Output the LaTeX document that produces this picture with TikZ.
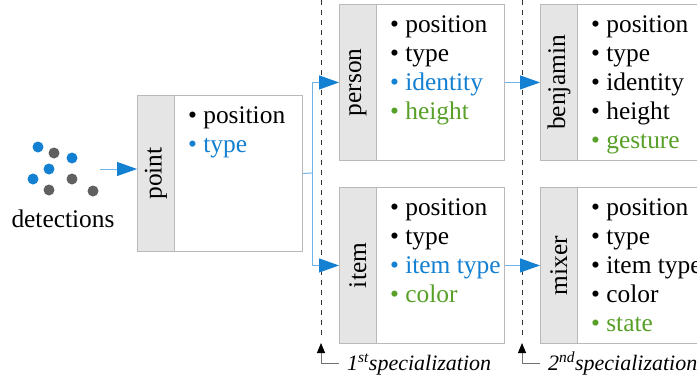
\documentclass[tikz,border=0pt]{standalone}
\usepackage{fontspec}
\setmainfont{Liberation Serif}
\usetikzlibrary{arrows.meta}
\definecolor{myblue}{RGB}{20,128,210}
\definecolor{linkblue}{RGB}{110,180,230}
\definecolor{mygreen}{RGB}{88,160,40}
\definecolor{dotgray}{RGB}{96,96,96}
\definecolor{headgray}{RGB}{229,229,229}
\definecolor{bordergray}{RGB}{185,185,185}
\newcommand\bl[2][black]{\textcolor{#1}{\textbullet\ #2}\\}
\tikzset{
  boxst/.style={draw=bordergray, fill=white, line width=0.9bp, minimum width=165bp, minimum height=156bp, anchor=north west, inner sep=0pt},
  headst/.style={draw=bordergray, fill=headgray, line width=0.9bp, minimum width=37bp, minimum height=156bp, anchor=north west, inner sep=0pt},
  headtxt/.style={rotate=90, inner sep=0pt, font=\fontsize{25.4bp}{29bp}\selectfont},
  listst/.style={anchor=base west, inner sep=0pt, font=\fontsize{25.4bp}{29bp}\selectfont},
  bigarrow/.style={-{Triangle[length=20bp,width=14bp,color=myblue]}},
  link/.style={draw=linkblue, line width=1bp},
  dot/.style={circle, inner sep=0pt, minimum size=11bp},
  specline/.style={dashed, dash pattern=on 5bp off 5bp, line width=0.7bp, black!80},
  speclab/.style={anchor=base west, inner sep=0pt, font=\fontsize{22bp}{26bp}\selectfont\itshape},
  upback/.style={draw=black!55, line width=0.9bp, -{Triangle[length=10bp,width=8bp,color=black]}}
}
\begin{document}
\begin{tikzpicture}[x=1bp,y=-1bp]
\useasboundingbox (0,0) rectangle (697,380);
\clip (0,0) rectangle (697,380);

% detections
\node[dot, fill=myblue] (b1) at (38,147) {};
\node[dot, fill=myblue] (b2) at (72,158) {};
\node[dot, fill=myblue] (b3) at (49,169) {};
\node[dot, fill=myblue] (b4) at (33,179) {};
\node[dot, fill=dotgray] (g1) at (54,153) {};
\node[dot, fill=dotgray] (g2) at (72,179) {};
\node[dot, fill=dotgray] (g3) at (49,190) {};
\node[dot, fill=dotgray] (g4) at (93,191) {};
\node[anchor=base, inner sep=0pt, font=\fontsize{25.4bp}{29bp}\selectfont] (det) at (63,227) {detections};
\coordinate (detout) at (100,169);

% point
\node[boxst] (point) at (137,95) {};
\node[headst] (pointh) at (point.north west) {};
\node[headtxt] (pointt) at (pointh.center) {point};
\node[listst] (pointl) at ([xshift=13bp,yshift=-28bp]pointh.north east)
  {\begin{tabular}[t]{@{}l@{}}\bl{position}\bl[myblue]{type}\end{tabular}};

% person
\node[boxst] (person) at (339,4) {};
\node[headst] (personh) at (person.north west) {};
\node[headtxt] (persont) at (personh.center) {person};
\node[listst] (personl) at ([xshift=13bp,yshift=-28bp]personh.north east)
  {\begin{tabular}[t]{@{}l@{}}\bl{position}\bl{type}\bl[myblue]{identity}\bl[mygreen]{height}\end{tabular}};

% item
\node[boxst] (item) at (339,187) {};
\node[headst] (itemh) at (item.north west) {};
\node[headtxt] (itemt) at (itemh.center) {item};
\node[listst] (iteml) at ([xshift=13bp,yshift=-28bp]itemh.north east)
  {\begin{tabular}[t]{@{}l@{}}\bl{position}\bl{type}\bl[myblue]{item type}\bl[mygreen]{color}\end{tabular}};

% benjamin
\node[boxst] (benj) at (540,4) {};
\node[headst] (benjh) at (benj.north west) {};
\node[headtxt] (benjt) at (benjh.center) {benjamin};
\node[listst] (benjl) at ([xshift=13bp,yshift=-28bp]benjh.north east)
  {\begin{tabular}[t]{@{}l@{}}\bl{position}\bl{type}\bl{identity}\bl{height}\bl[mygreen]{gesture}\end{tabular}};

% mixer
\node[boxst] (mixer) at (540,187) {};
\node[headst] (mixerh) at (mixer.north west) {};
\node[headtxt] (mixert) at (mixerh.center) {mixer};
\node[listst] (mixerl) at ([xshift=13bp,yshift=-28bp]mixerh.north east)
  {\begin{tabular}[t]{@{}l@{}}\bl{position}\bl{type}\bl{item type}\bl{color}\bl[mygreen]{state}\end{tabular}};

% specialization lines
\coordinate (d1top) at (321,0);
\coordinate (d1bot) at (321,343);
\coordinate (d2top) at (522,0);
\coordinate (d2bot) at (522,343);
\draw[specline] (d1top) -- ([yshift=6bp]d1bot);
\draw[specline] (d2top) -- ([yshift=6bp]d2bot);
\node[speclab] (lab1) at (347,370) {1\textsuperscript{st}specialization};
\node[speclab] (lab2) at (548,370) {2\textsuperscript{nd}specialization};
\coordinate (c1) at (339,363);
\coordinate (c2) at (540,363);
\draw[upback] (c1) -| (d1bot);
\draw[upback] (c2) -| (d2bot);

% connectors
\draw[link, bigarrow] (detout) -- (point.west |- detout);
\coordinate (split) at (312,173);
\draw[link] (point.east) -- (split);
\draw[link, bigarrow] (split) |- (person.west);
\draw[link, bigarrow] (split) |- (item.west);
\draw[link, bigarrow] (person.east) -- (benj.west);
\draw[link, bigarrow] (item.east) -- (mixer.west);
\end{tikzpicture}
\end{document}
